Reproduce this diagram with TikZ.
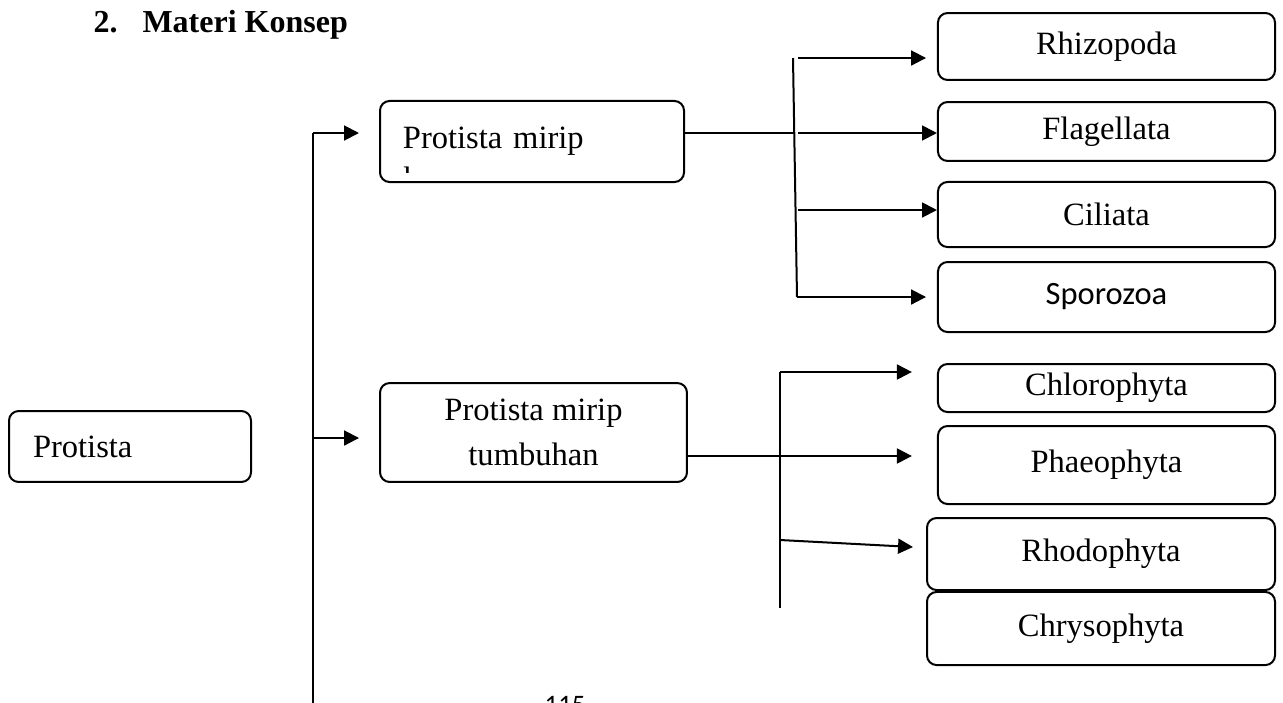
\documentclass[tikz,border=0pt]{standalone}
\usepackage{fontspec}
\setmainfont{Liberation Serif}
\newfontfamily\calib{Carlito}
\usetikzlibrary{arrows.meta}
\begin{document}
\begin{tikzpicture}[x=0.375pt,y=-0.375pt,
  box/.style={draw, rounded corners=3.6pt, line width=0.75pt, inner sep=0pt,
    font=\fontsize{12.2}{14}\selectfont, align=center},
  conn/.style={line width=0.75pt},
  arr/.style={line width=0.75pt, -{Triangle[length=5.6pt,width=5.6pt]}},
  txt/.style={inner sep=0pt, anchor=base west, font=\fontsize{12.2}{14}\selectfont}]
\useasboundingbox (0,0) rectangle (1283,702);
\clip (0,0) rectangle (1283,702);
% title
\node[txt, font=\fontsize{12}{14}\selectfont\bfseries] (num) at (93,32) {2.};
\node[txt, font=\fontsize{12}{14}\selectfont\bfseries] (title) at (142,32) {Materi Konsep};
% left boxes
\node[box, minimum width=90.75pt, minimum height=26.6pt, text width=72.75pt, align=left] (prot) at (130,446.5) {Protista};
\node[box, minimum width=114pt, minimum height=30.4pt, text width=96.8pt, align=left] (hew) at (532,141.5) {Protista mirip};
\begin{scope}
  \clip (385,150) rectangle (680,172);
  \node[txt] (hewb) at (403,189) {hewan};
\end{scope}
\node[box, minimum width=115.1pt, minimum height=37.1pt, font=\fontsize{12.2}{17}\selectfont] (tum) at (533.5,432.5) {Protista mirip\\tumbuhan};
% right boxes
\node[box, minimum width=126.4pt, minimum height=25.1pt] (rhi) at (1106.5,46.5) {Rhizopoda};
\node[box, minimum width=126.4pt, minimum height=22.1pt] (fla) at (1106.5,131.5) {Flagellata};
\node[box, minimum width=126.4pt, minimum height=24.4pt] (cil) at (1106.5,214.5) {Ciliata};
\node[box, minimum width=126.4pt, minimum height=26.25pt, font=\fontsize{12.2}{14}\calib] (spo) at (1106.5,297) {Sporozoa};
\node[box, minimum width=126.4pt, minimum height=18pt] (chl) at (1106.5,388) {Chlorophyta};
\node[box, minimum width=126.4pt, minimum height=29.25pt] (pha) at (1106.5,465) {Phaeophyta};
\node[box, minimum width=130.5pt, minimum height=27pt] (rho) at (1101,554) {Rhodophyta};
\node[box, minimum width=130.5pt, minimum height=27.4pt] (chr) at (1101,628.5) {Chrysophyta};
% page number (cut off at the page edge, as in the source)
\node[inner sep=0pt, anchor=base, font=\fontsize{10}{12}\calib] (pg) at (565,713) {115};
% left trunk
\coordinate (L0) at (313,133);
\coordinate (L1) at (313,438);
\coordinate (Lb) at (313,710);
\draw[conn] (Lb) -- (L0);
\draw[arr, shorten >=7.5pt] (L0) -- (L0 -| hew.west);
\draw[arr, shorten >=7.5pt] (L1) -- (L1 -| tum.west);
% upper group
\coordinate (ta) at (793,58);
\coordinate (tb) at (797,297);
\coordinate (tf) at (795,133);
\coordinate (t1) at (798,58);
\coordinate (t2) at (798,133);
\coordinate (t3) at (798,210);
\draw[conn] (ta) -- (tb);
\draw[conn, line width=0.6pt] (tf -| hew.east) -- (tf);
\draw[arr, shorten >=4.1pt] (t1) -- (t1 -| rhi.west);
\draw[arr] (t2) -- (t2 -| fla.west);
\draw[arr] (t3) -- (t3 -| cil.west);
\draw[arr, shorten >=4.1pt] (tb) -- (tb -| spo.west);
% lower group
\coordinate (ba) at (780,372);
\coordinate (bb) at (780,608);
\coordinate (bf) at (687,456);
\coordinate (b3) at (780,540);
\coordinate (b3e) at (913,547);
\draw[conn] (ba) -- (bb);
\draw[arr, shorten >=9.4pt] (ba) -- (ba -| chl.west);
\draw[arr, shorten >=9.4pt] (bf -| tum.east) -- (bf -| pha.west);
\draw[arr] (b3) -- (b3e);
\end{tikzpicture}
\end{document}
